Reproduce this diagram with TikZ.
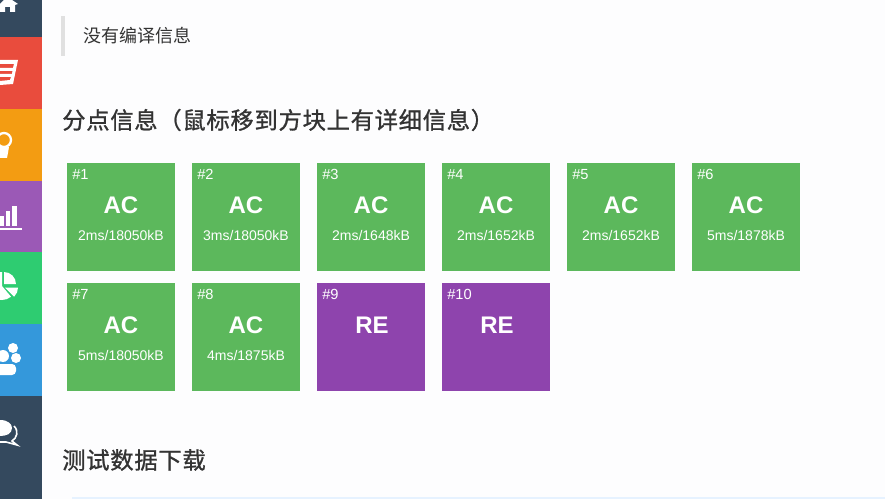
\documentclass[tikz,border=0pt]{standalone}
\usepackage{fontspec}
\setmainfont{Liberation Sans}
\newfontfamily\cjk{Noto Sans CJK SC}
\newfontfamily\cjkhead[LetterSpace=3,FakeBold=1]{Noto Sans CJK SC}
\definecolor{pagebg}{HTML}{FDFDFE}
\definecolor{navdark}{HTML}{34495E}
\definecolor{navred}{HTML}{E94C3D}
\definecolor{navorange}{HTML}{F39C12}
\definecolor{navpurple}{HTML}{9B59B6}
\definecolor{navgreen}{HTML}{2ECC71}
\definecolor{navblue}{HTML}{3498DB}
\definecolor{acgreen}{HTML}{5CB85C}
\definecolor{republe}{HTML}{8E44AD}
\definecolor{headtext}{HTML}{333333}
\definecolor{boxedge}{HTML}{E6F2FF}
\tikzset{
  navblock/.style={inner sep=0pt, minimum width=31.5pt, anchor=north west},
  actile/.style={fill=acgreen, inner sep=0pt, minimum size=81pt, anchor=north west},
  retile/.style={fill=republe, inner sep=0pt, minimum size=81pt, anchor=north west},
  tilenum/.style={text=white, font=\fontsize{11}{12}\selectfont, inner sep=0pt, anchor=west},
  verdict/.style={text=white, font=\fontsize{18}{20}\selectfont\bfseries, inner sep=0pt},
  usage/.style={text=white, font=\fontsize{10.5}{12}\selectfont, inner sep=0pt},
  heading/.style={text=headtext, font=\cjkhead\fontsize{17.5}{20}\selectfont, inner sep=0pt, anchor=west},
  icon/.style={fill=white, draw=none}
}
\begin{document}
\begin{tikzpicture}[x=0.75pt,y=-0.75pt]
  \useasboundingbox (0,0) rectangle (885,499);
  \fill[pagebg] (0,0) rectangle (885,499);

  % sidebar
  \node[navblock, fill=navdark, minimum height=27.75pt] (nav1) at (0,0) {};
  \node[navblock, fill=navred, minimum height=54pt] (nav2) at (0,37) {};
  \node[navblock, fill=navorange, minimum height=54pt] (nav3) at (0,109) {};
  \node[navblock, fill=navpurple, minimum height=53.25pt] (nav4) at (0,181) {};
  \node[navblock, fill=navgreen, minimum height=54pt] (nav5) at (0,252) {};
  \node[navblock, fill=navblue, minimum height=54pt] (nav6) at (0,324) {};
  \node[navblock, fill=navdark, minimum height=77.25pt] (nav7) at (0,396) {};

  % sidebar icons
  \fill[icon] (0,12) -- (0,4) -- (7,-3) -- (12,0) -- (18,4) -- (15,5) -- (15,12) -- (10,12) -- (10,7) -- (5,7) -- (5,12) -- cycle;
  \fill[icon] (0,60) -- (18,60) -- (13,84) -- (0,85) -- (0,81) -- (10,80) -- (11,77) -- (0,77) -- (0,74) -- (12,74) -- (12.5,71) -- (0,71) -- (0,68) -- (13,68) -- (14,64) -- (0,64) -- cycle;
  \draw[white, line width=1.7pt] (4,140) circle (7);
  \fill[icon] (-2,147) -- (9,147) -- (8,153) -- (7,158) -- (-2,158) -- cycle;
  \fill[icon] (0,216) rectangle (4,226);
  \fill[icon] (6,211) rectangle (10,226);
  \fill[icon] (12,206) rectangle (17,226);
  \fill[icon] (0,228) rectangle (22,230);
  \fill[icon] (4,284) -- (4,272) arc (-90:0:12) -- cycle;
  \fill[icon] (2,286) -- (2,272) arc (-90:-180:14) -- (-12,286) arc (180:50:14) -- cycle;
  \fill[icon] (5,287.5) -- (18,287.5) arc (0:45:13) -- cycle;
  \fill[icon] (13,348) circle (5);
  \fill[icon] (16,358) circle (5);
  \fill[icon] (3,356) circle (6);
  \fill[icon, rounded corners=3] (-4,364) rectangle (16,375);
  \fill[icon] (0,420) .. controls (8,420) and (12,424) .. (12,428) .. controls (12,434) and (6,436) .. (0,436) -- cycle;
  \draw[white, line width=1.2pt] (14,426) .. controls (19,431) and (17,438) .. (12,441) -- (17,445) -- (6,442) -- (0,442);

  % compile message
  \fill[black!12] (61,16) rectangle (65,56);
  \node[text=headtext, font=\cjk\fontsize{13.5}{16}\selectfont, inner sep=0pt, anchor=west] (msg) at (83,36) {没有编译信息};

  % headings
  \node[heading] (head1) at (62,120) {分点信息（鼠标移到方块上有详细信息）};
  \node[heading] (head2) at (62,460) {测试数据下载};

  % first row
  \node[actile] (t1) at (67,163) {};
  \node[actile] (t2) at (192,163) {};
  \node[actile] (t3) at (317,163) {};
  \node[actile] (t4) at (442,163) {};
  \node[actile] (t5) at (567,163) {};
  \node[actile] (t6) at (692,163) {};
  % second row
  \node[actile] (t7) at (67,283) {};
  \node[actile] (t8) at (192,283) {};
  \node[retile] (t9) at (317,283) {};
  \node[retile] (t10) at (442,283) {};

  \node[tilenum] (n1) at (72,174.5) {\#1};
  \node[tilenum] (n2) at (197,174.5) {\#2};
  \node[tilenum] (n3) at (322,174.5) {\#3};
  \node[tilenum] (n4) at (447,174.5) {\#4};
  \node[tilenum] (n5) at (572,174.5) {\#5};
  \node[tilenum] (n6) at (697,174.5) {\#6};
  \node[tilenum] (n7) at (72,294.5) {\#7};
  \node[tilenum] (n8) at (197,294.5) {\#8};
  \node[tilenum] (n9) at (322,294.5) {\#9};
  \node[tilenum] (n10) at (447,294.5) {\#10};

  \node[verdict] (v1) at (121,205) {AC};
  \node[verdict] (v2) at (246,205) {AC};
  \node[verdict] (v3) at (371,205) {AC};
  \node[verdict] (v4) at (496,205) {AC};
  \node[verdict] (v5) at (621,205) {AC};
  \node[verdict] (v6) at (746,205) {AC};
  \node[verdict] (v7) at (121,325) {AC};
  \node[verdict] (v8) at (246,325) {AC};
  \node[verdict] (v9) at (372,325) {RE};
  \node[verdict] (v10) at (497,325) {RE};

  \node[usage] (u1) at (121,235) {2ms/18050kB};
  \node[usage] (u2) at (246,235) {3ms/18050kB};
  \node[usage] (u3) at (371,235) {2ms/1648kB};
  \node[usage] (u4) at (496,235) {2ms/1652kB};
  \node[usage] (u5) at (621,235) {2ms/1652kB};
  \node[usage] (u6) at (746,235) {5ms/1878kB};
  \node[usage] (u7) at (121,355) {5ms/18050kB};
  \node[usage] (u8) at (246,355) {4ms/1875kB};

  % top of the download box
  \fill[boxedge] (72,497) rectangle (885,499);
\end{tikzpicture}
\end{document}
